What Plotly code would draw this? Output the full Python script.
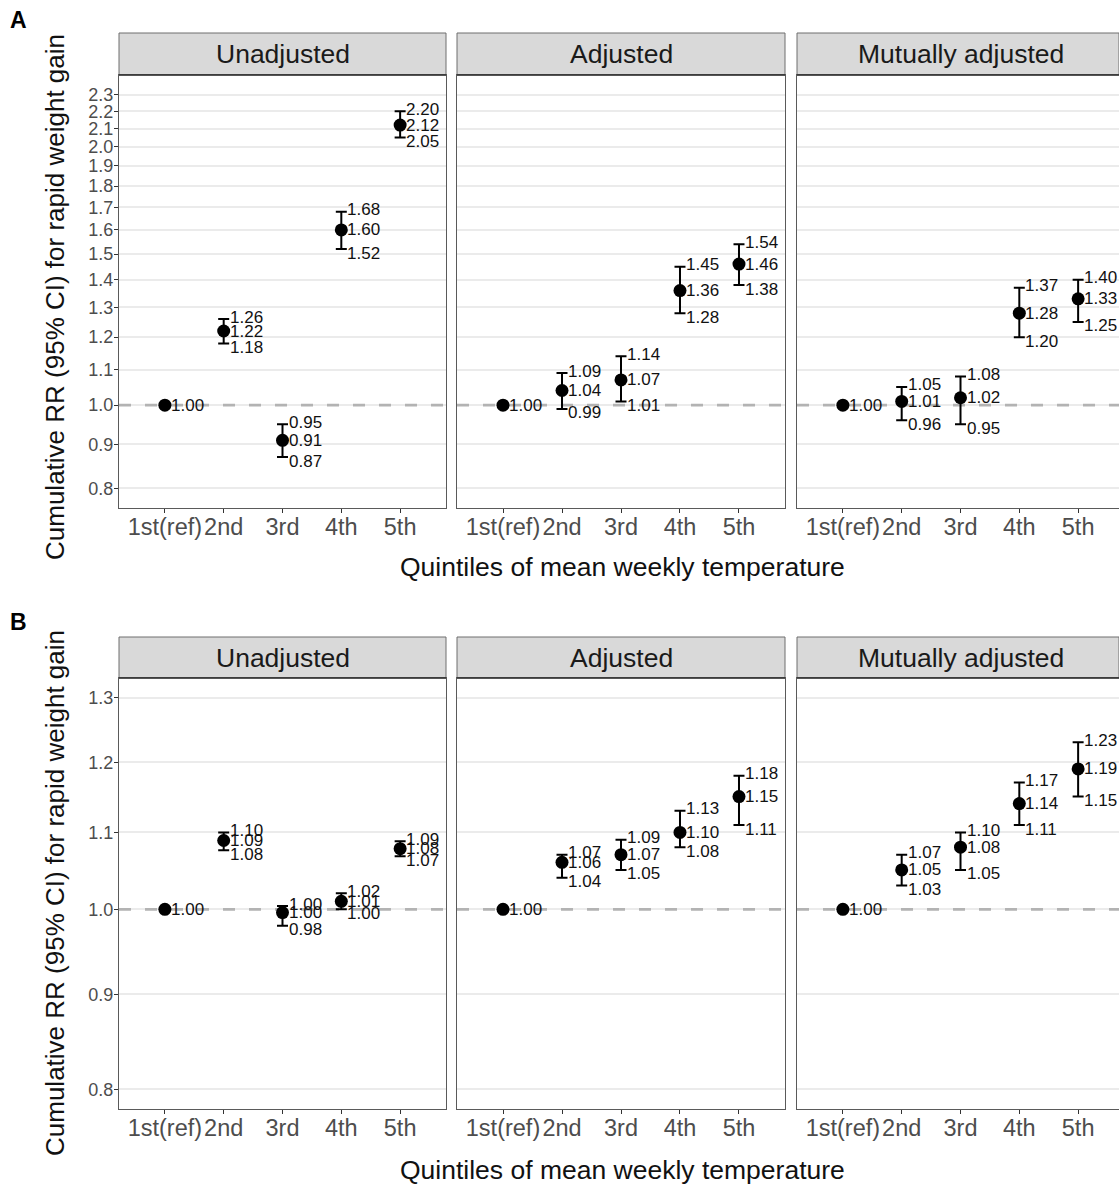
import math
import plotly.graph_objects as go

W, H = 1119, 1184
FONT = "Liberation Sans, Arial, Helvetica, sans-serif"

# ---------------- data ----------------
quintiles = ["1st(ref)", "2nd", "3rd", "4th", "5th"]
models = ["Unadjusted", "Adjusted", "Mutually adjusted"]
panel_letters = ["A", "B"]

# Panel A
a_unadj_est = [1.00, 1.22, 0.91, 1.60, 2.12]
a_unadj_lo = [None, 1.18, 0.87, 1.52, 2.05]
a_unadj_hi = [None, 1.26, 0.95, 1.68, 2.20]

a_adj_est = [1.00, 1.04, 1.07, 1.36, 1.46]
a_adj_lo = [None, 0.99, 1.01, 1.28, 1.38]
a_adj_hi = [None, 1.09, 1.14, 1.45, 1.54]

a_mut_est = [1.00, 1.01, 1.02, 1.28, 1.33]
a_mut_lo = [None, 0.96, 0.95, 1.20, 1.25]
a_mut_hi = [None, 1.05, 1.08, 1.37, 1.40]

# Panel B
b_unadj_est = [1.00, 1.089, 0.996, 1.01, 1.078]
b_unadj_lo = [None, 1.076, 0.98, 1.00, 1.068]
b_unadj_hi = [None, 1.10, 1.004, 1.02, 1.088]

b_adj_est = [1.00, 1.06, 1.07, 1.10, 1.15]
b_adj_lo = [None, 1.04, 1.05, 1.08, 1.11]
b_adj_hi = [None, 1.07, 1.09, 1.13, 1.18]

b_mut_est = [1.00, 1.05, 1.08, 1.14, 1.19]
b_mut_lo = [None, 1.03, 1.05, 1.11, 1.15]
b_mut_hi = [None, 1.07, 1.10, 1.17, 1.23]

a_ticks = [0.8, 0.9, 1.0, 1.1, 1.2, 1.3, 1.4, 1.5, 1.6, 1.7, 1.8, 1.9, 2.0, 2.1, 2.2, 2.3]
b_ticks = [0.8, 0.9, 1.0, 1.1, 1.2, 1.3]

rows = [
    [(a_unadj_est, a_unadj_lo, a_unadj_hi),
     (a_adj_est, a_adj_lo, a_adj_hi),
     (a_mut_est, a_mut_lo, a_mut_hi)],
    [(b_unadj_est, b_unadj_lo, b_unadj_hi),
     (b_adj_est, b_adj_lo, b_adj_hi),
     (b_mut_est, b_mut_lo, b_mut_hi)],
]
row_ticks = [a_ticks, b_ticks]

# ---------------- layout geometry (pixels) ----------------
col_px = [(119, 446), (457, 785), (797, 1124)]
panel_py = [(75, 508), (678, 1109)]
strip_py = [(33, 75), (637, 678)]
XR = (-0.78, 4.78)
x_title_py = [567, 1170]
y_title_py = [297, 893]
letter_py = [20, 622]


def xp(px):
    return px / W


def yp(py):
    return 1 - py / H


fig = go.Figure()
shapes = []
annotations = []
layout = {}

BORDER = "#5a5a5a"
LABEL_FONT = dict(family=FONT, size=17, color="#111111")

for r in range(2):
    ticks = row_ticks[r]
    lo_t, hi_t = math.log10(min(ticks)), math.log10(max(ticks))
    pad = 0.05 * (hi_t - lo_t)
    yrange = [lo_t - pad, hi_t + pad]
    for c in range(3):
        i = r * 3 + c + 1
        xa = "x" if i == 1 else f"x{i}"
        ya = "y" if i == 1 else f"y{i}"
        x0p, x1p = col_px[c]
        full_w = x1p - x0p
        x1c = min(x1p, W)
        xr1 = XR[0] + (XR[1] - XR[0]) * (x1c - x0p) / full_w
        layout[f"xaxis{i}"] = dict(
            domain=[xp(x0p), xp(x1c)], range=[XR[0], xr1],
            tickmode="array", tickvals=list(range(len(quintiles))), ticktext=quintiles,
            tickangle=0, showgrid=False, zeroline=False,
            showline=True, mirror=True, linecolor=BORDER, linewidth=1,
            ticks="outside", ticklen=4, tickwidth=1, tickcolor="#333333",
            ticklabelstandoff=-6,
            tickfont=dict(family=FONT, size=23.5, color="#4d4d4d"),
            anchor=ya, fixedrange=True,
        )
        layout[f"yaxis{i}"] = dict(
            type="log", domain=[yp(panel_py[r][1]), yp(panel_py[r][0])], range=yrange,
            tickmode="array", tickvals=ticks, ticktext=[f"{t:.1f}" for t in ticks],
            showgrid=True, gridcolor="#ebebeb", gridwidth=1.5, zeroline=False,
            showline=True, mirror=True, linecolor=BORDER, linewidth=1,
            ticks="outside" if c == 0 else "", ticklen=4, tickwidth=1, tickcolor="#333333",
            ticklabelstandoff=-3,
            showticklabels=(c == 0),
            tickfont=dict(family=FONT, size=18, color="#4d4d4d"),
            anchor=xa, fixedrange=True,
        )

        est, lo, hi = rows[r][c]
        xs = list(range(len(quintiles)))

        # reference dashed line at RR = 1
        fig.add_trace(go.Scatter(
            x=[XR[0], XR[1]], y=[1.0, 1.0], mode="lines",
            line=dict(color="#b3b3b3", width=2.6, dash="12px,14px"),
            xaxis=xa, yaxis=ya, hoverinfo="skip", showlegend=False,
        ))

        up_err = [(h - e) if h is not None else 0 for e, h in zip(est, hi)]
        dn_err = [(e - l) if l is not None else 0 for e, l in zip(est, lo)]
        fig.add_trace(go.Scatter(
            x=xs, y=est, mode="markers",
            marker=dict(size=13, color="black"),
            error_y=dict(type="data", symmetric=False, array=up_err, arrayminus=dn_err,
                         color="black", thickness=2, width=5.5),
            xaxis=xa, yaxis=ya, hoverinfo="skip", showlegend=False,
        ))

        # labels: estimate, upper CI, lower CI (annotations on log axis use log10)
        for vals, ysh in ((est, 0), (hi, 2), (lo, -4)):
            for x, v in zip(xs, vals):
                if v is None:
                    continue
                annotations.append(dict(
                    text=f"{v:.2f}", xref=xa, yref=ya, x=x, y=math.log10(v),
                    xanchor="left", yanchor="middle", xshift=5, yshift=ysh,
                    showarrow=False, font=LABEL_FONT, borderpad=0,
                ))

        # strip
        shapes.append(dict(
            type="rect", xref="paper", yref="paper",
            x0=xp(x0p), x1=xp(x1c), y0=yp(strip_py[r][1]), y1=yp(strip_py[r][0]),
            fillcolor="#d9d9d9", line=dict(color="#6e6e6e", width=1), layer="below",
        ))
        shapes.append(dict(
            type="line", xref="paper", yref="paper",
            x0=xp(x0p), x1=xp(x1c), y0=yp(strip_py[r][1]), y1=yp(strip_py[r][1]),
            line=dict(color="#333333", width=1.5),
        ))
        annotations.append(dict(
            text=models[c], xref="paper", yref="paper",
            x=xp((x0p + x1p) / 2), y=yp((strip_py[r][0] + strip_py[r][1]) / 2),
            xanchor="center", yanchor="middle", showarrow=False,
            font=dict(family=FONT, size=26.5, color="#1a1a1a"),
        ))

    # axis titles
    annotations.append(dict(
        text="Quintiles of mean weekly temperature", xref="paper", yref="paper",
        x=xp(622), y=yp(x_title_py[r]), xanchor="center", yanchor="middle",
        showarrow=False, font=dict(family=FONT, size=26.5, color="#111111"),
    ))
    annotations.append(dict(
        text="Cumulative RR (95% CI) for rapid weight gain", xref="paper", yref="paper",
        x=xp(55), y=yp(y_title_py[r]), xanchor="center", yanchor="middle", textangle=-90,
        showarrow=False, font=dict(family=FONT, size=26, color="#111111"),
    ))
    annotations.append(dict(
        text=f"<b>{panel_letters[r]}</b>", xref="paper", yref="paper",
        x=xp(18), y=yp(letter_py[r]), xanchor="center", yanchor="middle",
        showarrow=False, font=dict(family=FONT, size=23, color="black"),
    ))

fig.update_layout(
    width=W, height=H, margin=dict(l=0, r=0, t=0, b=0),
    paper_bgcolor="white", plot_bgcolor="white",
    shapes=shapes, annotations=annotations, showlegend=False,
    **layout,
)

fig.write_html("out.html", config={"displayModeBar": False},
               post_script="document.body.style.margin='0';")
